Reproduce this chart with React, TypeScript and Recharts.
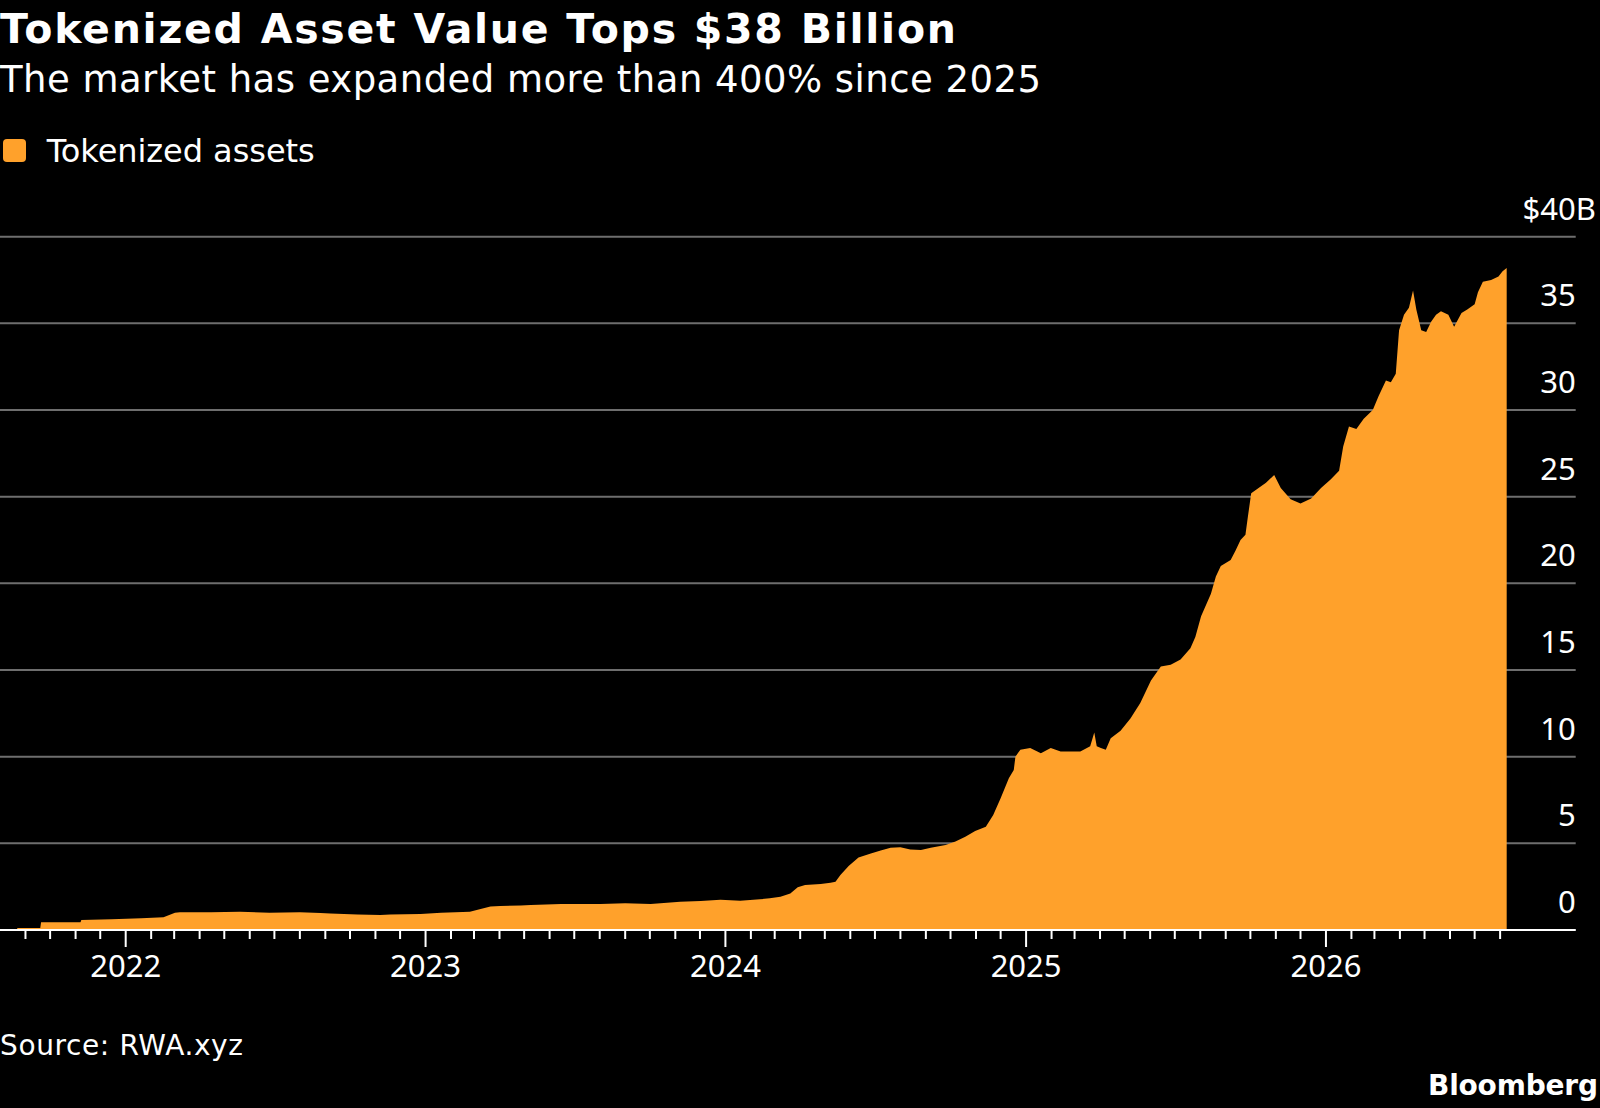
import React from 'react';
import { AreaChart, Area, XAxis, YAxis, CartesianGrid } from 'recharts';

// ---- data ----
const dates = [
  '2021-08-22', '2021-09-19', '2021-09-20', '2021-11-07', '2021-11-08', '2021-12-15', '2022-01-20', '2022-02-16',
  '2022-03-02', '2022-03-08', '2022-04-15', '2022-05-20', '2022-06-25', '2022-08-01', '2022-08-26', '2022-09-07',
  '2022-10-10', '2022-11-07', '2022-11-19', '2022-12-26', '2023-01-20', '2023-02-24', '2023-03-09', '2023-03-21',
  '2023-04-02', '2023-04-27', '2023-05-09', '2023-06-15', '2023-08-02', '2023-09-01', '2023-10-02', '2023-11-07',
  '2023-12-02', '2023-12-26', '2024-01-19', '2024-02-12', '2024-02-24', '2024-03-08', '2024-03-20', '2024-03-29',
  '2024-04-07', '2024-04-26', '2024-05-08', '2024-05-14', '2024-05-20', '2024-05-30', '2024-06-11', '2024-06-26',
  '2024-07-08', '2024-07-20', '2024-08-01', '2024-08-13', '2024-08-26', '2024-09-07', '2024-09-25', '2024-10-07',
  '2024-10-19', '2024-10-31', '2024-11-13', '2024-11-22', '2024-12-01', '2024-12-11', '2024-12-17', '2024-12-19',
  '2024-12-25', '2025-01-06', '2025-01-19', '2025-01-31', '2025-02-12', '2025-02-24', '2025-03-08', '2025-03-20',
  '2025-03-25', '2025-03-28', '2025-04-02', '2025-04-08', '2025-04-14', '2025-04-26', '2025-05-08', '2025-05-20',
  '2025-06-02', '2025-06-14', '2025-06-26', '2025-07-08', '2025-07-20', '2025-07-26', '2025-08-02', '2025-08-14',
  '2025-08-20', '2025-08-26', '2025-09-07', '2025-09-13', '2025-09-19', '2025-09-25', '2025-09-28', '2025-10-02',
  '2025-10-08', '2025-10-20', '2025-10-30', '2025-11-07', '2025-11-19', '2025-12-01', '2025-12-14', '2025-12-26',
  '2026-01-07', '2026-01-17', '2026-01-22', '2026-01-29', '2026-02-07', '2026-02-16', '2026-02-27', '2026-03-06',
  '2026-03-15', '2026-03-21', '2026-03-27', '2026-03-31', '2026-04-06', '2026-04-12', '2026-04-17', '2026-04-21',
  '2026-04-27', '2026-05-03', '2026-05-09', '2026-05-15', '2026-05-21', '2026-05-30', '2026-06-06', '2026-06-15',
  '2026-06-22', '2026-07-01', '2026-07-05', '2026-07-11', '2026-07-21', '2026-07-30', '2026-08-04', '2026-08-09',
];

const values = [
  0.12, 0.12, 0.44, 0.44, 0.58, 0.62, 0.68, 0.73,
  1.0, 1.02, 1.03, 1.05, 1.0, 1.02, 0.98, 0.95,
  0.9, 0.87, 0.9, 0.92, 1.0, 1.06, 1.21, 1.35,
  1.38, 1.42, 1.44, 1.5, 1.5, 1.55, 1.5, 1.63,
  1.67, 1.75, 1.69, 1.77, 1.83, 1.92, 2.1, 2.46,
  2.6, 2.65, 2.73, 2.79, 3.17, 3.69, 4.19, 4.42,
  4.58, 4.75, 4.78, 4.65, 4.62, 4.75, 4.9, 5.1,
  5.38, 5.71, 5.96, 6.63, 7.6, 8.75, 9.23, 10.0,
  10.4, 10.5, 10.2, 10.5, 10.3, 10.3, 10.3, 10.6,
  11.4, 10.6, 10.5, 10.4, 11.06, 11.5, 12.2, 13.1,
  14.4, 15.2, 15.3, 15.6, 16.25, 16.9, 18.1, 19.4,
  20.4, 21.0, 21.35, 21.9, 22.5, 22.8, 23.85, 25.2,
  25.4, 25.8, 26.25, 25.5, 24.85, 24.6, 24.9, 25.5,
  26.0, 26.5, 27.9, 29.05, 28.9, 29.5, 30.0, 30.8,
  31.7, 31.6, 32.1, 34.6, 35.5, 35.9, 36.9, 35.8,
  34.6, 34.5, 35.1, 35.5, 35.7, 35.5, 34.8, 35.6,
  35.8, 36.1, 36.8, 37.4, 37.5, 37.7, 38.0, 38.2,
];

const yTicks = [0, 5, 10, 15, 20, 25, 30, 35, 40];
const yearLabels = ['2022', '2023', '2024', '2025', '2026'];
const firstTickMonth = '2021-09-01';
const tickMonthCount = 60;
const domainStart = '2021-08-01';
const domainEnd = '2026-11-01';

const TITLE = 'Tokenized Asset Value Tops $38 Billion';
const SUBTITLE = 'The market has expanded more than 400% since 2025';
const SERIES_NAME = 'Tokenized assets';
const SOURCE = 'Source: RWA.xyz';
const BRAND = 'Bloomberg';

// ---- styles ----
const ORANGE = '#FFA12B';
const GRID = '#6e6e6e';
const TEXT = '#ffffff';
const TEXT_FONT = '"DejaVu Sans", sans-serif';
const AXIS_FONT = '"Noto Sans", sans-serif';

const toTs = (s: string) => {
  const [y, m, d] = s.split('-').map(Number);
  return Date.UTC(y, m - 1, d);
};

const rows = dates.map((d, i) => ({ t: toTs(d), v: values[i] }));
const firstTick = new Date(toTs(firstTickMonth));
const monthTicks = Array.from({ length: tickMonthCount }, (_, i) =>
  Date.UTC(firstTick.getUTCFullYear(), firstTick.getUTCMonth() + i, 1)
);

const XTick = (props: any) => {
  const { x, y, payload } = props;
  const d = new Date(payload.value);
  const isYear = d.getUTCMonth() === 0;
  const label = yearLabels.find((l) => l === String(d.getUTCFullYear()));
  return (
    <g>
      <line x1={x} x2={x} y1={y} y2={y + (isYear ? 17 : 9)} stroke={TEXT} strokeWidth={2} />
      {isYear && label ? (
        <text x={x} y={y + 47} textAnchor="middle" fill={TEXT} fontSize={31} fontFamily={AXIS_FONT}>
          {label}
        </text>
      ) : null}
    </g>
  );
};

const YTick = (props: any) => {
  const { y, payload, right } = props;
  const x = right;
  const v = payload.value;
  const isTop = v === yTicks[yTicks.length - 1];
  return (
    <g>
      <text x={x} y={y - 17} textAnchor="end" fill={TEXT} fontSize={31} fontFamily={AXIS_FONT}>
        {isTop ? `$${v}` : v}
      </text>
      {isTop ? (
        <text x={x} y={y - 17} textAnchor="start" fill={TEXT} fontSize={31} fontFamily={AXIS_FONT}>
          B
        </text>
      ) : null}
    </g>
  );
};

const PLOT_RIGHT = 1575.7;

export default function App() {
  return (
    <div style={{ position: 'fixed', left: 0, top: 0, width: 1600, height: 1108, background: '#000', overflow: 'hidden' }}>
      <div style={{ position: 'absolute', left: 0, top: 0 }}>
        <AreaChart
          width={1600}
          height={1108}
          data={rows}
          margin={{ top: 236.7, right: 0, bottom: 118, left: 0 }}
        >
          <CartesianGrid vertical={false} stroke={GRID} strokeWidth={2} />
          <XAxis
            dataKey="t"
            type="number"
            domain={[toTs(domainStart), toTs(domainEnd)]}
            allowDataOverflow
            ticks={monthTicks}
            interval={0}
            tick={<XTick />}
            tickLine={false}
            tickSize={0}
            tickMargin={0}
            axisLine={{ stroke: TEXT, strokeWidth: 2 }}
            height={60}
          />
          <YAxis
            orientation="right"
            width={1600 - PLOT_RIGHT}
            domain={[0, 40]}
            ticks={yTicks}
            interval={0}
            tick={<YTick right={PLOT_RIGHT} />}
            tickLine={false}
            tickSize={0}
            tickMargin={0}
            axisLine={false}
          />
          <Area
            type="linear"
            dataKey="v"
            name={SERIES_NAME}
            stroke="none"
            fill={ORANGE}
            fillOpacity={1}
            isAnimationActive={false}
          />
        </AreaChart>
      </div>
      <svg
        width={1600}
        height={1108}
        style={{ position: 'absolute', left: 0, top: 0, pointerEvents: 'none' }}
      >
        <text x={0} y={42.7} fill={TEXT} fontSize={41} fontWeight="bold" fontFamily={TEXT_FONT} textLength={956} lengthAdjust="spacing">
          {TITLE}
        </text>
        <text x={0} y={91.7} fill={TEXT} fontSize={37} fontFamily={TEXT_FONT} textLength={1041} lengthAdjust="spacing">
          {SUBTITLE}
        </text>
        <rect x={3} y={139} width={23} height={23} rx={4} fill={ORANGE} />
        <text x={46.7} y={161.7} fill={TEXT} fontSize={32} fontFamily={TEXT_FONT} textLength={268} lengthAdjust="spacing">
          {SERIES_NAME}
        </text>
        <text x={0} y={1055} fill={TEXT} fontSize={28} fontFamily={TEXT_FONT} textLength={243} lengthAdjust="spacing">
          {SOURCE}
        </text>
        <text x={1598} y={1095} textAnchor="end" fill={TEXT} fontSize={28} fontWeight="bold" fontFamily={TEXT_FONT} textLength={170} lengthAdjust="spacing">
          {BRAND}
        </text>
      </svg>
    </div>
  );
}
